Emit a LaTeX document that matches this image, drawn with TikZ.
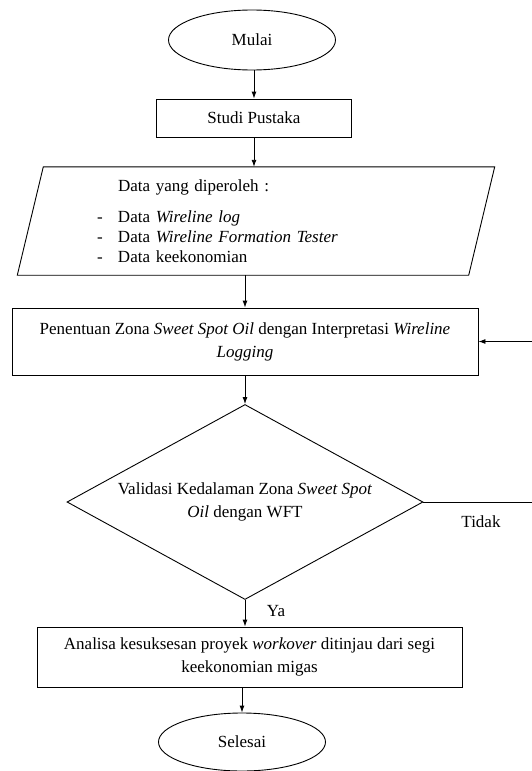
\documentclass[tikz,border=0pt]{standalone}
\usepackage{fontspec}
\setmainfont{Liberation Serif}
\usetikzlibrary{shapes.geometric,arrows.meta}
\begin{document}
\begin{tikzpicture}[x=1pt,y=-1pt]

      \tikzset{terminal/.style={draw, ellipse, line width=.9pt, inner sep=0pt, minimum width=167pt, minimum height=60pt},
               process/.style={draw, rectangle, line width=.9pt, inner sep=0pt, align=center},
               inputbox/.style={rectangle, inner xsep=66.5pt, inner ysep=0pt, text width=318pt, minimum height=108pt, align=left},
               decision/.style={draw, diamond, line width=.9pt, inner sep=0pt, aspect=1.83, minimum width=356pt, minimum height=195pt, align=center},
               answer/.style={inner sep=0pt},
               arrow/.style={line width=.9pt, -{Latex[length=7pt,width=5pt]}},
               every node/.append style={font=\fontsize{17}{23}\selectfont}}
      \useasboundingbox (0,0) rectangle (531,771);
% Nodes
	%Start og data
      	\node[terminal] (s1) at (252,40) {Mulai};
      	\node[process, minimum width=195pt, minimum height=38pt] (s2) at (254,118) {Studi Pustaka};
      	\node[inputbox] (s3) at (256,221) {\hspace*{21pt}Data yang diperoleh :\\[8pt]
      		\makebox[21pt][l]{-}Data \textit{Wireline log}\\[-3pt]
      		\makebox[21pt][l]{-}Data \textit{Wireline Formation Tester}\\[-3pt]
      		\makebox[21pt][l]{-}Data keekonomian};
	%Zona og validasi
      	\node[process, minimum width=466pt, minimum height=67pt] (s4) at (245,341.5) {Penentuan Zona \textit{Sweet Spot Oil} dengan Interpretasi \textit{Wireline}\\ \textit{Logging}};
      	\node[decision] (s5) at (245,502) {Validasi Kedalaman Zona \textit{Sweet Spot}\\ \textit{Oil} dengan WFT};
	%Analisa og slut
      	\node[process, minimum width=425pt, minimum height=60pt] (s6) at (249.5,657) {Analisa kesuksesan proyek \textit{workover} ditinjau dari segi\\ keekonomian migas};
      	\node[terminal, minimum height=58pt] (s7) at (242,742) {Selesai};
	%Svar
      	\node[answer] (ya) at (276,611) {Ya};
      	\node[answer] (tidak) at (481,522) {Tidak};
      	\coordinate (c1) at (535,502);
% Shapes
	%Parallelogram
		\draw[line width=.9pt] ([xshift=13pt]s3.north west) -- ([xshift=13pt]s3.north east) -- ([xshift=-13pt]s3.south east) -- ([xshift=-13pt]s3.south west) -- cycle;
% Edges
		\path[arrow] (s1.south -| s2.north) edge (s2.north);
		\path[arrow] (s2.south) edge (s2.south |- s3.north);
		\path[arrow] (s3.south -| s4.north) edge (s4.north);
		\path[arrow] (s4.south) edge (s5.north);
		\path[arrow] (s5.south) edge (s5.south |- s6.north);
		\path[arrow] (s6.south -| s7.north) edge (s7.north);
	%Tilbage
		\draw[arrow] (s5.east) -- (c1) |- (s4.east);

	\end{tikzpicture}
\end{document}
